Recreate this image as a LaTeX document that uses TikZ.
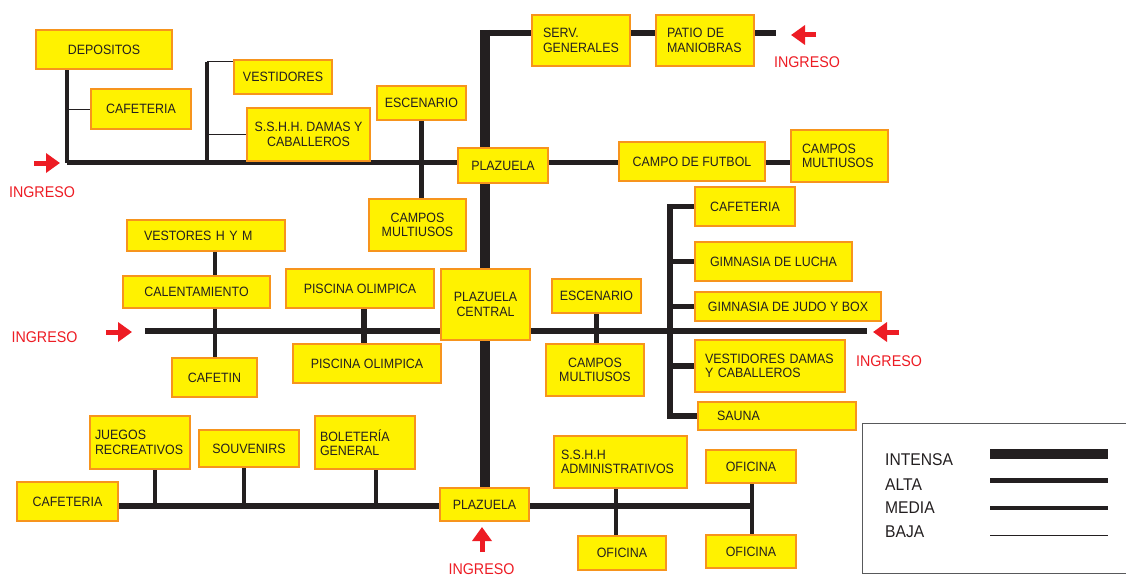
\documentclass[tikz,border=0pt]{standalone}
\usepackage{fontspec}
\setmainfont{Liberation Sans}[FakeStretch=0.92]
\usetikzlibrary{arrows.meta,backgrounds}
\definecolor{amarillo}{HTML}{FFF200}
\definecolor{naranja}{HTML}{F7941D}
\definecolor{rojo}{HTML}{ED1C24}
\definecolor{negro}{HTML}{231F20}
\definecolor{gris}{HTML}{58595B}
\newcommand\cajafont{\fontsize{13.5}{14.5}\selectfont}
\newcommand\ingfont{\fontsize{15.5}{17}\selectfont}
\newcommand\leyfont{\fontsize{17}{19}\selectfont}
\begin{document}
\begin{tikzpicture}
        [
           x=1pt, y=-1pt,
           caja/.style={draw=naranja,fill=amarillo,line width=1.6pt,text=negro,font=\cajafont,align=center,inner sep=2pt},
           izq/.style={align=left,inner xsep=#1},
           intensa/.style={draw=negro,line width=9.5pt},
           alta/.style={draw=negro,line width=5.7pt},
           media/.style={draw=negro,line width=4.2pt},
           baja/.style={draw=negro,line width=1pt},
           flecha/.style={draw=rojo,line width=5pt,-{Triangle[length=14pt,width=19pt]}},
           ingreso/.style={text=rojo,font=\ingfont,inner sep=0pt},
           leyenda/.style={text=negro,font=\leyfont,inner sep=0pt,anchor=west}
        ]
        \useasboundingbox (0,0) rectangle (1126,578);
        % zona norte
        \node[caja,minimum width=136pt,minimum height=39pt] (depositos) at (104,49.5) {DEPOSITOS};
        \node[caja,minimum width=100pt,minimum height=40pt] (cafT) at (141,109) {CAFETERIA};
        \node[caja,minimum width=98pt,minimum height=34pt] (vestidores) at (283,77) {VESTIDORES};
        \node[caja,minimum width=123pt,minimum height=53pt] (sshhT) at (308.5,134.5) {S.S.H.H. DAMAS Y\\CABALLEROS};
        \node[caja,minimum width=89pt,minimum height=34pt] (escA) at (421.5,103) {ESCENARIO};
        \node[caja,minimum width=90pt,minimum height=35pt] (plazuela) at (503,165.5) {PLAZUELA};
        \node[caja,minimum width=97pt,minimum height=52pt] (campA) at (417.5,225) {CAMPOS\\MULTIUSOS};
        \node[caja,izq=11pt,text width=76pt,minimum height=51pt] (serv) at (581,40.5) {SERV.\\GENERALES};
        \node[caja,izq=11pt,text width=76pt,minimum height=51pt] (patio) at (705,40.5) {PATIO DE\\MANIOBRAS};
        \node[caja,minimum width=146pt,minimum height=39pt] (futbol) at (692,161.5) {CAMPO DE FUTBOL};
        \node[caja,izq=11pt,text width=75pt,minimum height=52pt] (campR) at (839.5,156) {CAMPOS\\MULTIUSOS};
        % zona deportiva este
        \node[caja,minimum width=100pt,minimum height=39pt] (cafR) at (745,206.5) {CAFETERIA};
        \node[caja,minimum width=157pt,minimum height=39pt] (lucha) at (773.5,261.5) {GIMNASIA DE LUCHA};
        \node[caja,minimum width=186pt,minimum height=29pt] (judo) at (788,306.5) {GIMNASIA DE JUDO Y BOX};
        \node[caja,izq=10pt,text width=130pt,minimum height=52pt] (vestDC) at (770,366) {VESTIDORES DAMAS\\Y CABALLEROS};
        \node[caja,izq=19pt,text width=120pt,minimum height=28pt] (sauna) at (777,416) {SAUNA};
        % eje central
        \node[caja,minimum width=89pt,minimum height=71pt] (central) at (485.5,304.5) {PLAZUELA\\CENTRAL};
        \node[caja,minimum width=89pt,minimum height=34pt] (escB) at (596.5,296) {ESCENARIO};
        \node[caja,minimum width=98pt,minimum height=52pt] (campB) at (595,370) {CAMPOS\\MULTIUSOS};
        \node[caja,izq=17pt,text width=124pt,minimum height=31pt] (vestores) at (206,235.5) {VESTORES H Y M};
        \node[caja,minimum width=147pt,minimum height=32pt] (calent) at (196.5,292) {CALENTAMIENTO};
        \node[caja,minimum width=85pt,minimum height=39pt] (cafetin) at (214.5,377.5) {CAFETIN};
        \node[caja,minimum width=148pt,minimum height=39pt] (piscA) at (360,288.5) {PISCINA OLIMPICA};
        \node[caja,minimum width=148pt,minimum height=39pt] (piscB) at (367,363.5) {PISCINA OLIMPICA};
        % zona sur
        \node[caja,minimum width=101pt,minimum height=39pt] (cafB) at (67.5,501.5) {CAFETERIA};
        \node[caja,izq=5pt,text width=90pt,minimum height=53pt] (juegos) at (140,442.5) {JUEGOS\\RECREATIVOS};
        \node[caja,minimum width=100pt,minimum height=37pt] (souv) at (249,448.5) {SOUVENIRS};
        \node[caja,izq=5pt,text width=90pt,minimum height=53pt] (bolet) at (365,442.5) {BOLETERÍA\\GENERAL};
        \node[caja,minimum width=89pt,minimum height=33pt] (plazB) at (484.5,504.5) {PLAZUELA};
        \node[caja,izq=7pt,text width=119pt,minimum height=52pt] (sshhA) at (620.5,462) {S.S.H.H\\ADMINISTRATIVOS};
        \node[caja,minimum width=90pt,minimum height=33pt] (ofiB) at (751,466.5) {OFICINA};
        \node[caja,minimum width=88pt,minimum height=34pt] (ofiA) at (622,553) {OFICINA};
        \node[caja,minimum width=90pt,minimum height=33pt] (ofiC) at (751,551.5) {OFICINA};
        % puntos de los ejes
        \coordinate (topV) at (485,30);
        \coordinate (topH) at (481,33);
        \coordinate (finTR) at (776,33);
        \coordinate (esqTL) at (67,162.5);
        \coordinate (ramaV) at (207,62);
        \coordinate (finML) at (145,331);
        \coordinate (finMR) at (867,331);
        \coordinate (colR) at (670,331);
        \coordinate (finB) at (752,506);
        \begin{scope}[on background layer]
            \draw[intensa] (topV) -- (topV |- plazB.north);
            \draw[alta] (topH) -- (finTR);
            \draw[alta] (esqTL) -- (esqTL -| campR.west);
            \draw[alta] (escA.south) -- (escA.south |- campA.north);
            \draw[alta] (finML) -- (finMR);
            \draw[alta] (escB.south) -- (escB.south |- campB.north);
            \draw[alta] ([xshift=4pt]piscA.south) -- ([xshift=4pt]piscA.south |- piscB.north);
            \draw[alta] (cafR.west) -| (colR) |- (sauna.west);
            \foreach \n in {lucha,judo,vestDC}
                \draw[alta] (\n.west) -- (\n.west -| colR);
            \draw[alta] (finB -| cafB.east) -- (finB);
            \draw[media] (depositos.south -| esqTL) -- (esqTL);
            \draw[media] (ramaV) -- (ramaV |- esqTL);
            \draw[media] ([xshift=9pt]vestores.south) -- ([xshift=9pt]vestores.south |- cafetin.north);
            \draw[media] ([xshift=15pt]juegos.south) -- ([xshift=15pt]juegos.south |- finB);
            \draw[media] ([xshift=-5pt]souv.south) -- ([xshift=-5pt]souv.south |- finB);
            \draw[media] ([xshift=11pt]bolet.south) -- ([xshift=11pt]bolet.south |- finB);
            \draw[media] ([xshift=-4.5pt]sshhA.south) -- ([xshift=-4.5pt]sshhA.south |- ofiA.north);
            \draw[media] ([xshift=1pt]ofiB.south) -- ([xshift=1pt]ofiB.south |- ofiC.north);
            \draw[baja] (cafT.west) -- (cafT.west -| esqTL);
            \draw[baja] (ramaV) -- (ramaV -| vestidores.west);
            \draw[baja] (sshhT.west) -- (sshhT.west -| ramaV);
        \end{scope}
        % ingresos
        \coordinate (fTL) at (34,163);
        \coordinate (fTR) at (816,35);
        \coordinate (fML) at (106,332);
        \coordinate (fMR) at (899,332);
        \coordinate (fB) at (482,552);
        \draw[flecha] (fTL) -- ++(26,0);
        \draw[flecha] (fTR) -- ++(-25,0);
        \draw[flecha] (fML) -- ++(26,0);
        \draw[flecha] (fMR) -- ++(-26,0);
        \draw[flecha] (fB) -- ++(0,-25);
        \node[ingreso] (ingTL) at (42,192.5) {INGRESO};
        \node[ingreso] (ingTR) at (807,62) {INGRESO};
        \node[ingreso] (ingML) at (44.5,337) {INGRESO};
        \node[ingreso] (ingMR) at (889,361) {INGRESO};
        \node[ingreso] (ingB) at (481.5,569.5) {INGRESO};
        % leyenda
        \draw[gris,line width=1pt] (862,423) rectangle (1140,573);
        \node[leyenda] (lgI) at (885,459.5) {INTENSA};
        \node[leyenda] (lgA) at (885,485) {ALTA};
        \node[leyenda] (lgM) at (885,508) {MEDIA};
        \node[leyenda] (lgB) at (885,532) {BAJA};
        \coordinate (lnI) at (990,454);
        \coordinate (lnA) at (990,480.5);
        \coordinate (lnM) at (990,508);
        \coordinate (lnB) at (990,535);
        \draw[intensa] (lnI) -- ++(118,0);
        \draw[alta] (lnA) -- ++(118,0);
        \draw[media] (lnM) -- ++(118,0);
        \draw[baja] (lnB) -- ++(118,0);
\end{tikzpicture}
\end{document}
